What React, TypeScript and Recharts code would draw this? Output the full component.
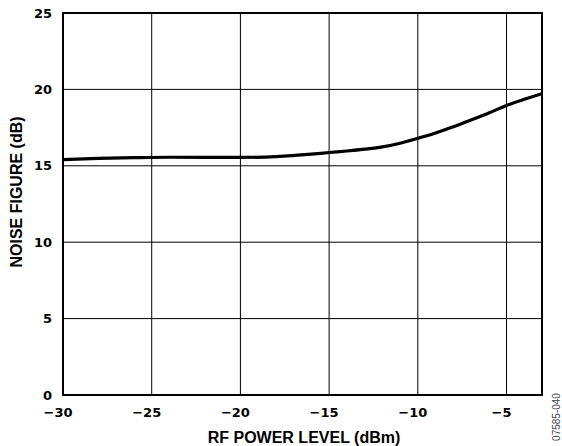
import React from 'react';
import { LineChart, Line, XAxis, YAxis, CartesianGrid, ReferenceArea, Label } from 'recharts';

const rfPower = [-30, -28, -26, -24, -22, -20, -18, -16, -15, -14, -13, -12, -11, -10, -9, -8, -7, -6, -5, -4, -3];
const noiseFigure = [15.4, 15.48, 15.53, 15.56, 15.55, 15.55, 15.6, 15.76, 15.87, 15.97, 16.09, 16.24, 16.48, 16.8, 17.15, 17.55, 18.0, 18.45, 18.95, 19.35, 19.72];
const xTicks = [-30, -25, -20, -15, -10, -5];
const yTicks = [0, 5, 10, 15, 20, 25];

const data = rfPower.map((x, i) => ({ x, y: noiseFigure[i] }));

const TICK_FONT = '"DejaVu Sans", sans-serif';
const TITLE_FONT = '"Liberation Sans", Arial, sans-serif';

const fmt = (v: number) => (v < 0 ? '\u2212' + Math.abs(v) : String(v));

const XTitle = () => (
  <text x={304} y={443} textAnchor="middle" fill="#000" fontFamily={TITLE_FONT} fontWeight="bold" fontSize={16}>
    RF POWER LEVEL (dBm)
  </text>
);

const YTitle = () => (
  <text
    x={22}
    y={192}
    textAnchor="middle"
    transform="rotate(-90, 22, 192)"
    fill="#000"
    fontFamily={TITLE_FONT}
    fontWeight="bold"
    fontSize={16}
  >
    NOISE FIGURE (dB)
  </text>
);

export default function App() {
  return (
    <div style={{ position: 'absolute', left: 0, top: 0, width: 562, height: 446, background: '#fff' }}>
      <LineChart
        width={562}
        height={446}
        data={data}
        margin={{ top: 13, right: 20, bottom: 0, left: 0 }}
      >
        <CartesianGrid stroke="#000" strokeWidth={1} horizontalValues={yTicks} verticalValues={xTicks} />
        <XAxis
          type="number"
          dataKey="x"
          domain={[-30, -3]}
          ticks={xTicks}
          tickFormatter={fmt}
          height={51}
          tickLine={false}
          tickSize={0}
          tickMargin={13}
          axisLine={{ stroke: '#000', strokeWidth: 2 }}
          tick={{ fill: '#000', fontFamily: TICK_FONT, fontWeight: 'bold', fontSize: 13, dx: -5 }}
          allowDataOverflow
        >
          <Label content={<XTitle />} />
        </XAxis>
        <YAxis
          type="number"
          domain={[0, 25]}
          ticks={yTicks}
          width={63}
          tickLine={false}
          tickSize={0}
          tickMargin={11}
          axisLine={{ stroke: '#000', strokeWidth: 2 }}
          tick={{ fill: '#000', fontFamily: TICK_FONT, fontWeight: 'bold', fontSize: 13 }}
        >
          <Label content={<YTitle />} />
        </YAxis>
        <ReferenceArea x1={-30} x2={-3} y1={0} y2={25} fill="none" stroke="#000" strokeWidth={2} ifOverflow="visible" />
        <Line
          type="monotone"
          dataKey="y"
          stroke="#000"
          strokeWidth={3.2}
          dot={false}
          isAnimationActive={false}
        />
      </LineChart>
      <div
        style={{
          position: 'absolute',
          left: 557,
          top: 417,
          transform: 'translate(-50%, -50%) rotate(-90deg)',
          fontFamily: TITLE_FONT,
          fontSize: 10,
          color: '#444',
          whiteSpace: 'nowrap',
          lineHeight: '10px',
        }}
      >
        07585-040
      </div>
    </div>
  );
}
